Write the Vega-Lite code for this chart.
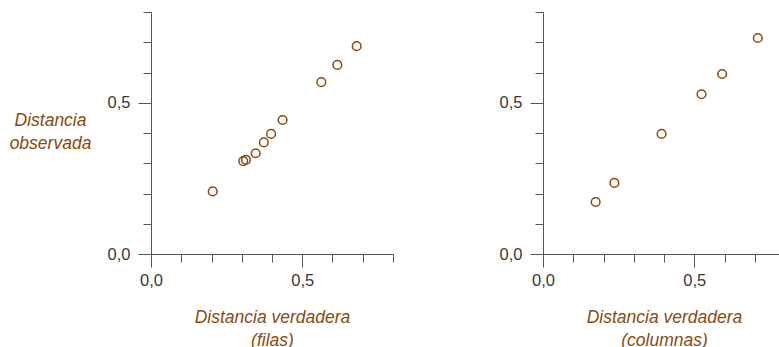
{
  "$schema": "https://vega.github.io/schema/vega-lite/v6.json",
  "padding": {"left": 9, "top": 11, "right": 0, "bottom": 0},
  "background": "white",
  "datasets": {
    "filas": [
      {"verdadera": 0.204, "observada": 0.207},
      {"verdadera": 0.305, "observada": 0.307},
      {"verdadera": 0.314, "observada": 0.311},
      {"verdadera": 0.346, "observada": 0.333},
      {"verdadera": 0.373, "observada": 0.369},
      {"verdadera": 0.397, "observada": 0.397},
      {"verdadera": 0.435, "observada": 0.443},
      {"verdadera": 0.563, "observada": 0.568},
      {"verdadera": 0.616, "observada": 0.625},
      {"verdadera": 0.680, "observada": 0.687}
    ],
    "columnas": [
      {"verdadera": 0.174, "observada": 0.172},
      {"verdadera": 0.236, "observada": 0.235},
      {"verdadera": 0.392, "observada": 0.397},
      {"verdadera": 0.524, "observada": 0.528},
      {"verdadera": 0.592, "observada": 0.595},
      {"verdadera": 0.710, "observada": 0.714}
    ]
  },
  "config": {
    "view": {"stroke": null},
    "font": "Liberation Sans",
    "axis": {
      "grid": false,
      "labelFlush": false,
      "domainColor": "#555555",
      "tickColor": "#555555",
      "labelColor": "#3a3a3a",
      "labelFontSize": 16.5,
      "labelFont": "Liberation Sans",
      "titleFont": "Liberation Sans",
      "titleFontSize": 17.5,
      "titleFontStyle": "italic",
      "titleFontWeight": "normal",
      "titleColor": "#8a4a0e",
      "titleLineHeight": 23,
      "tickSize": {"condition": {"test": "abs(datum.value) < 0.001 || abs(datum.value - 0.5) < 0.001", "value": 13}, "value": 8}
    }
  },
  "hconcat": [
    {
      "data": {"name": "filas"},
      "width": 242,
      "height": 242,
      "mark": {"type": "point", "shape": "circle", "filled": false, "color": "#8a4a0e", "strokeWidth": 1.5, "size": 75, "opacity": 1},
      "encoding": {
        "x": {
          "field": "verdadera", "type": "quantitative",
          "scale": {"domain": [0, 0.8], "nice": false, "zero": false},
          "axis": {
            "values": [0, 0.1, 0.2, 0.3, 0.4, 0.5, 0.6, 0.7, 0.8],
            "labelExpr": "abs(datum.value) < 0.001 ? '0,0' : (abs(datum.value - 0.5) < 0.001 ? '0,5' : '')",
            "labelPadding": 5,
            "title": ["Distancia verdadera", "(filas)"],
            "titleX": 121, "titleY": 63, "titleBaseline": "middle", "titleAlign": "center", "titlePadding": 0
          }
        },
        "y": {
          "field": "observada", "type": "quantitative",
          "scale": {"domain": [0, 0.8], "nice": false, "zero": false},
          "axis": {
            "values": [0, 0.1, 0.2, 0.3, 0.4, 0.5, 0.6, 0.7, 0.8],
            "labelExpr": "abs(datum.value) < 0.001 ? '0,0' : (abs(datum.value - 0.5) < 0.001 ? '0,5' : '')",
            "labelPadding": 8,
            "title": ["Distancia", "observada"],
            "titleAngle": 0, "titleX": -101, "titleY": 108, "titleAlign": "center", "titleBaseline": "middle"
          }
        }
      }
    },
    {
      "data": {"name": "columnas"},
      "width": 236,
      "height": 242,
      "mark": {"type": "point", "shape": "circle", "filled": false, "color": "#8a4a0e", "strokeWidth": 1.5, "size": 75, "opacity": 1},
      "encoding": {
        "x": {
          "field": "verdadera", "type": "quantitative",
          "scale": {"domain": [0, 0.78], "nice": false, "zero": false},
          "axis": {
            "values": [0, 0.1, 0.2, 0.3, 0.4, 0.5, 0.6, 0.7],
            "labelExpr": "abs(datum.value) < 0.001 ? '0,0' : (abs(datum.value - 0.5) < 0.001 ? '0,5' : '')",
            "labelPadding": 5,
            "title": ["Distancia verdadera", "(columnas)"],
            "titleX": 121, "titleY": 63, "titleBaseline": "middle", "titleAlign": "center", "titlePadding": 0
          }
        },
        "y": {
          "field": "observada", "type": "quantitative",
          "scale": {"domain": [0, 0.8], "nice": false, "zero": false},
          "axis": {
            "values": [0, 0.1, 0.2, 0.3, 0.4, 0.5, 0.6, 0.7, 0.8],
            "labelExpr": "abs(datum.value) < 0.001 ? '0,0' : (abs(datum.value - 0.5) < 0.001 ? '0,5' : '')",
            "labelPadding": 8,
            "title": null
          }
        }
      }
    }
  ],
  "spacing": 150,
  "bounds": "flush"
}
